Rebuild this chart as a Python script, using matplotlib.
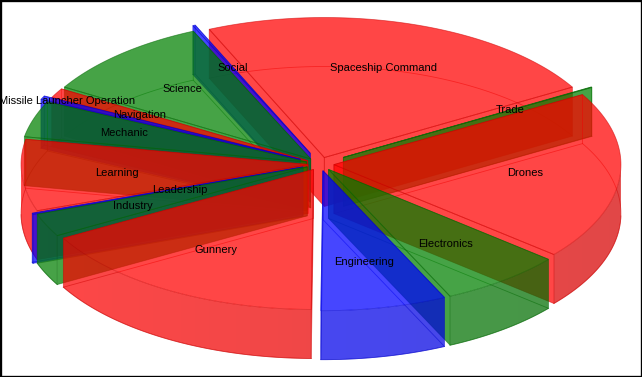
import numpy as np
import matplotlib
matplotlib.use("Agg")
import matplotlib.pyplot as plt
from matplotlib.patches import Polygon, Rectangle

# share of each slice, clockwise from the start angle
categories = ["Drones", "Electronics", "Engineering", "Gunnery", "Industry", "Leadership", "Learning",
              "Mechanic", "Missile Launcher Operation", "Navigation", "Science", "Social",
              "Spaceship Command", "Trade"]
values = [70, 25, 25.5, 60.2, 9.6, 0.5, 29.7, 15, 1.5, 4, 35, 0.5, 83.5, 0.2]
explode = [14, 14, 14, 13, 14, 18, 12, 14, 22, 14, 14, 24, 14, 27]
# labels the chart pushed away from the slice to avoid collisions
label_shift = {"Missile Launcher Operation": (-61, -17), "Leadership": (58, -8), "Learning": (1, 1)}

palette = ["#ff0000", "#008000", "#0000ff"]
alpha = 0.725
start_angle = 30
cx, cy = 320, 164
rx, ry = 287, 140
depth = 49

fig = plt.figure(figsize=(6.42, 3.77), dpi=100)
ax = fig.add_axes([0, 0, 1, 1])
ax.set_xlim(0, 642)
ax.set_ylim(377, 0)
ax.axis("off")


def rim(x0, y0, a):
    a = np.radians(a)
    return np.column_stack([x0 + rx * np.cos(a), y0 - ry * np.sin(a)])


total = sum(values)
spans = [v / total * 360 for v in values]
ends = start_angle - np.cumsum(spans)
starts = ends + spans
mids = (starts + ends) / 2

# back slices first, so the nearer ones lie over them
order = np.argsort(-np.sin(np.radians(mids)))

z = 1
for i in order:
    a0, a1, m = starts[i], ends[i], mids[i]
    rgb = matplotlib.colors.to_rgb(palette[i % 3])
    line = tuple(c * 0.8 for c in rgb)
    x0 = cx + explode[i] * np.cos(np.radians(m))
    y0 = cy - explode[i] * ry / rx * np.sin(np.radians(m))
    angles = np.linspace(a0, a1, max(int(a0 - a1) + 2, 2))
    arc = rim(x0, y0, angles)
    down = np.array([0, depth])

    # outer wall, only the part facing the viewer, with a left to right shade
    front = np.sin(np.radians(angles)) < 0
    if front.sum() > 1:
        p = arc[front]
        wall = Polygon(np.vstack([p, p[::-1] + down]), closed=True, transform=ax.transData)
        xs = np.linspace(p[:, 0].min() - 1, p[:, 0].max() + 1, 64)
        shade = 0.92 - 0.08 * (xs - x0) / rx
        img = np.zeros((1, 64, 4))
        img[0, :, :3] = np.outer(shade, rgb)
        img[0, :, 3] = alpha
        im = ax.imshow(img, extent=[xs[0], xs[-1], p[:, 1].max() + depth + 1, p[:, 1].min() - 1],
                       aspect="auto", interpolation="bilinear", zorder=z)
        im.set_clip_path(wall)
        ax.plot(p[:, 0], p[:, 1] + depth, color=line, alpha=0.45, lw=0.6, zorder=z)
    z += 1

    # radial walls: filled when they face the viewer, otherwise only their outline
    for a, facing in ((a0, np.cos(np.radians(a0)) < 0), (a1, np.cos(np.radians(a1)) > 0)):
        p = np.vstack([[x0, y0], rim(x0, y0, np.array([a]))])
        wall = np.vstack([p, p[::-1] + down])
        if facing:
            ax.add_patch(Polygon(wall, closed=True, fc=rgb, ec="none", alpha=alpha, zorder=z))
        ax.add_patch(Polygon(wall, closed=True, fc="none", ec=line, alpha=0.5, lw=0.6, zorder=z))
        z += 1

    # bottom rim
    ax.plot(arc[:, 0], arc[:, 1] + depth, color=line, alpha=0.5, lw=0.6, zorder=z)
    z += 1

    # top face
    top = np.vstack([[x0, y0], arc])
    ax.add_patch(Polygon(top, closed=True, fc=rgb, ec="none", alpha=alpha, zorder=z))
    ax.add_patch(Polygon(top, closed=True, fc="none", ec=line, alpha=0.55, lw=0.6, zorder=z))
    z += 1

ax.set_xlim(0, 642)
ax.set_ylim(377, 0)

for i, name in enumerate(categories):
    m = np.radians(mids[i])
    x0 = cx + explode[i] * np.cos(m)
    y0 = cy - explode[i] * ry / rx * np.sin(m)
    dx, dy = label_shift.get(name, (0, 0))
    ax.text(x0 + 0.67 * rx * np.cos(m) + dx, y0 - 0.67 * ry * np.sin(m) + dy, name, ha="center", va="center",
            fontsize=8, family="Liberation Sans", color="black", zorder=z + 1)

ax.add_patch(Rectangle((0, 0), 642, 377, fc="none", ec="black", lw=2.4, zorder=z + 2, clip_on=True))

fig.savefig("out.png", dpi=100)
